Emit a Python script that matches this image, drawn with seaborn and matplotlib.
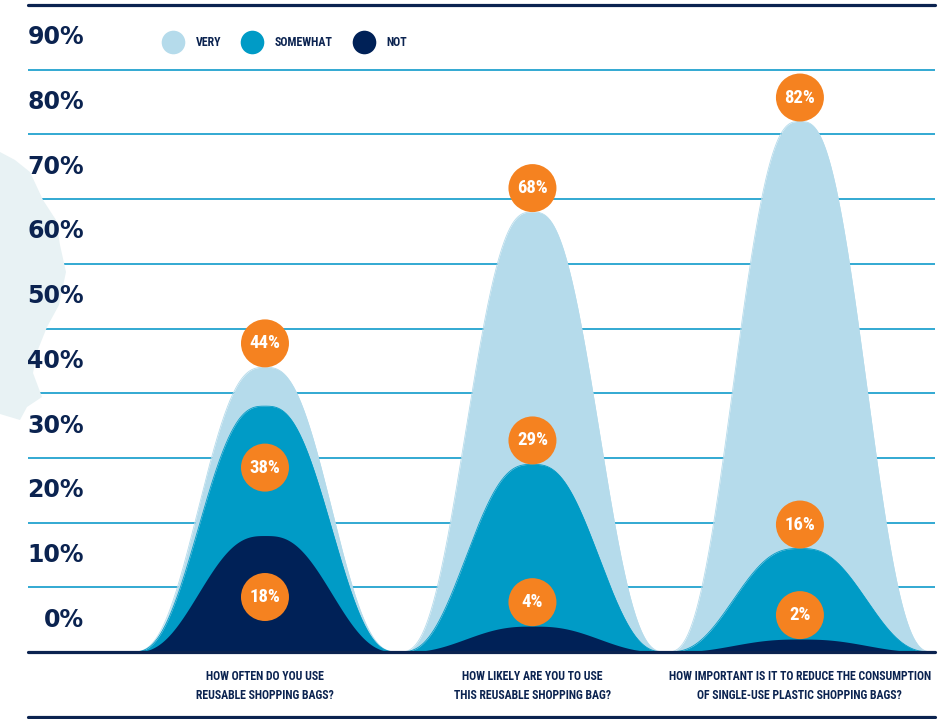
import numpy as np
import pandas as pd
import matplotlib
matplotlib.use("Agg")
import matplotlib.pyplot as plt
import seaborn as sns
from matplotlib.lines import Line2D
from matplotlib.patches import Polygon
from matplotlib import transforms

# ---------------- data ----------------
categories = [
    "HOW OFTEN DO YOU USE\nREUSABLE SHOPPING BAGS?",
    "HOW LIKELY ARE YOU TO USE\nTHIS REUSABLE SHOPPING BAG?",
    "HOW IMPORTANT IS IT TO REDUCE THE CONSUMPTION\nOF SINGLE-USE PLASTIC SHOPPING BAGS?",
]
series_names = ["VERY", "SOMEWHAT", "NOT"]
very = [44, 68, 82]
somewhat = [38, 29, 16]
not_ = [18, 4, 2]
tick_values = [0, 10, 20, 30, 40, 50, 60, 70, 80, 90]
tick_labels = ["0%", "10%", "20%", "30%", "40%", "50%", "60%", "70%", "80%", "90%"]

# ---------------- style ----------------
NAVY = "#0b2350"
C_VERY = "#b5dbeb"
C_SOME = "#009bc6"
C_NOT = "#002157"
ORANGE = "#f58220"
GRID = "#22a3cf"
BLOB = "#e8f2f4"
colors = {"VERY": C_VERY, "SOMEWHAT": C_SOME, "NOT": C_NOT}

sns.set_theme(style="white")
NARROW = ["Roboto Condensed", "Liberation Sans Narrow", "Roboto", "DejaVu Sans"]
WIDE = ["DejaVu Sans"]
plt.rcParams["font.family"] = NARROW

W, H = 948, 719
fig = plt.figure(figsize=(W / 100, H / 100), dpi=100)
ax_left, ax_right, ax_top, ax_bot = 28, 935, 5, 652
ax = fig.add_axes([ax_left / W, 1 - ax_bot / H, (ax_right - ax_left) / W, (ax_bot - ax_top) / H])

# bell shape (smootherstep) built around each value
def bell(xs, centers, heights, half=0.5):
    y = np.zeros_like(xs)
    for c, h in zip(centers, heights):
        t = np.clip(np.abs(xs - c) / half, 0, 1)
        y = np.maximum(y, h * (1 - (6 * t**5 - 15 * t**4 + 10 * t**3)))
    return y

xs = np.linspace(-0.5, 2.5, 1201)
centers = np.arange(len(categories))
rows = []
for name, vals in zip(series_names, [very, somewhat, not_]):
    ys = bell(xs, centers, vals)
    rows.append(pd.DataFrame({"x": xs, "y": ys, "series": name}))
df = pd.concat(rows, ignore_index=True)

# gridlines
for v in tick_values[1:]:
    ax.axhline(v, color=GRID, lw=1.3, zorder=0.6)
ax.axhline(100, color=NAVY, lw=2.3, zorder=6, clip_on=False)

# decorative map blob on the left
blob_px = [(0, 152), (15, 160), (30, 172), (43, 200), (56, 220), (60, 245), (66, 272),
           (59, 305), (47, 327), (37, 352), (33, 373), (42, 397), (27, 407), (20, 420), (0, 414)]
blob = Polygon([(x / W, 1 - y / H) for x, y in blob_px], closed=True, facecolor=BLOB,
               edgecolor="none", transform=fig.transFigure, zorder=0.8, clip_on=False)
ax.add_artist(blob)

# bells
for i, name in enumerate(series_names):
    d = df[df.series == name]
    ax.fill_between(d.x, 0, d.y, color=colors[name], lw=0, zorder=1 + i)
sns.lineplot(data=df, x="x", y="y", hue="series", palette=colors, legend=False,
             linewidth=0.6, ax=ax, zorder=1.5, sort=False)
ax.axhline(0, color=NAVY, lw=2.3, zorder=6, clip_on=False)

# value labels in orange circles
offset_above = 3.7
offset_inside = -9.5
lab_rows = []
for name, vals in zip(series_names, [very, somewhat, not_]):
    for i, v in enumerate(vals):
        inside = (i == 0 and name != "VERY")
        lab_rows.append({"x": i, "y": v + (offset_inside if inside else offset_above),
                         "text": f"{v}%"})
lab = pd.DataFrame(lab_rows)
sns.scatterplot(data=lab, x="x", y="y", s=1194, color=ORANGE, edgecolor="none",
                ax=ax, zorder=7, legend=False)
for _, r in lab.iterrows():
    ax.text(r.x, r.y, r.text, ha="center", va="center", color="white", fontsize=13.5,
            fontweight="bold", family=NARROW, zorder=8)

ax.set_xlim(-0.886, 2.505)
ax.set_ylim(0, 100)
ax.axis("off")

# y tick labels (sitting in the band above each gridline)
tr = transforms.blended_transform_factory(ax.transAxes, ax.transData)
for v, t in zip(tick_values, tick_labels):
    ax.text((84 - ax_left) / (ax_right - ax_left), v + 5, t, transform=tr, ha="right",
            va="center", fontsize=17, fontweight="heavy", color=NAVY, family=WIDE, zorder=9)

# category labels
trx = transforms.blended_transform_factory(ax.transData, ax.transAxes)
for i, c in enumerate(categories):
    ax.text(i, (ax_bot - 686) / (ax_bot - ax_top), c, transform=trx, ha="center", va="center",
            fontsize=8.5, fontweight="bold", color=NAVY, linespacing=1.6, family=NARROW,
            clip_on=False)

# bottom rule
fig.add_artist(Line2D([ax_left / W, ax_right / W], [1 - 716.5 / H] * 2, color=NAVY, lw=2.3,
                      transform=fig.transFigure))

# legend
handles = [Line2D([], [], marker="o", linestyle="", markersize=17, markeredgewidth=0,
                  color=colors[n]) for n in series_names]
leg = fig.legend(handles, series_names, loc="center left",
                 bbox_to_anchor=((173 - 7.2) / W, 1 - 43 / H), ncol=3, frameon=False,
                 handlelength=1.2, handletextpad=1.3, columnspacing=2.0, borderaxespad=0,
                 borderpad=0, prop={"family": NARROW, "weight": "bold", "size": 8.6})
for t in leg.get_texts():
    t.set_color(NAVY)

fig.savefig("out.png", dpi=100)
